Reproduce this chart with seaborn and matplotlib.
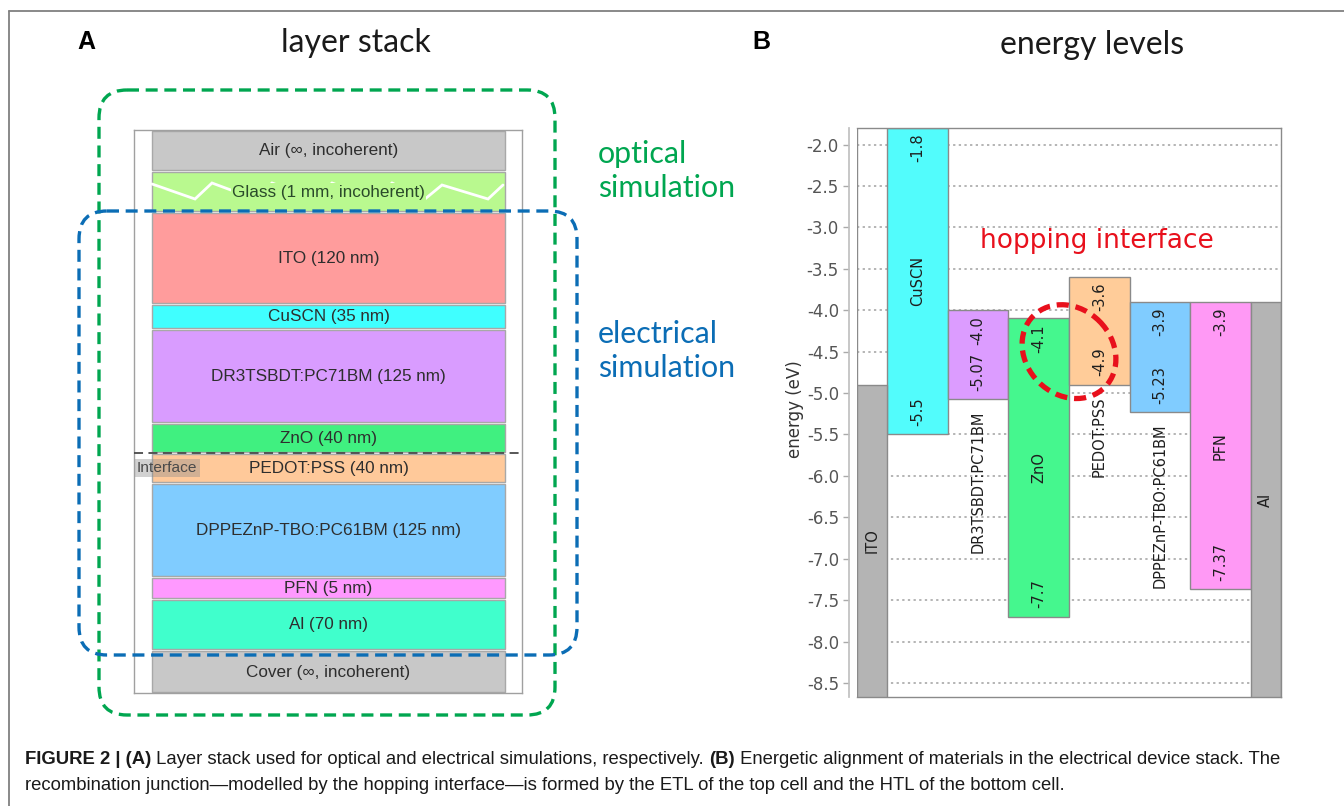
import matplotlib
matplotlib.use("Agg")
import matplotlib.pyplot as plt
import seaborn as sns
import numpy as np
import pandas as pd
from matplotlib.patches import FancyBboxPatch, Ellipse
from matplotlib.lines import Line2D

# ---------------- data: panel A (layer stack) ----------------
layer_labels = ["Air (\u221e, incoherent)", "Glass (1 mm, incoherent)", "ITO (120 nm)",
                "CuSCN (35 nm)", "DR3TSBDT:PC71BM (125 nm)", "ZnO (40 nm)",
                "PEDOT:PSS (40 nm)", "DPPEZnP-TBO:PC61BM (125 nm)", "PFN (5 nm)",
                "Al (70 nm)", "Cover (\u221e, incoherent)"]
layer_draw_rows = [41, 41, 92, 25, 94, 30, 30, 94, 22, 51, 43]   # drawn (not to scale) heights
layer_colors = ["#c8c8c8", "#b9f98f", "#ff9c9c", "#40ffff", "#d99cff", "#40f080",
                "#ffc99a", "#80ccff", "#ff99ff", "#40ffcc", "#c8c8c8"]
interface_below = "ZnO (40 nm)"

# ---------------- data: panel B (energy levels) ----------------
materials = ["CuSCN", "DR3TSBDT:PC71BM", "ZnO", "PEDOT:PSS", "DPPEZnP-TBO:PC61BM", "PFN"]
lumo = [-1.8, -4.0, -4.1, -3.6, -3.9, -3.9]
homo = [-5.5, -5.07, -7.7, -4.9, -5.23, -7.37]
lumo_labels = ["-1.8", "-4.0", "-4.1", "-3.6", "-3.9", "-3.9"]
homo_labels = ["-5.5", "-5.07", "-7.7", "-4.9", "-5.23", "-7.37"]
material_colors = ["#52fcfc", "#dc9cff", "#45f78e", "#ffcc99", "#80ccff", "#ff99f5"]
electrodes = ["ITO", "Al"]
work_function = [-4.9, -3.9]
electrode_color = "#b4b4b4"
ytick_values = [-2.0, -2.5, -3.0, -3.5, -4.0, -4.5, -5.0, -5.5, -6.0, -6.5, -7.0, -7.5, -8.0, -8.5]
ylim_energy = (-8.67, -1.8)
hop_pair = ("ZnO", "PEDOT:PSS")

caption_line1 = [("FIGURE 2 | (A)", True),
                 (" Layer stack used for optical and electrical simulations, respectively. ", False),
                 ("(B)", True),
                 (" Energetic alignment of materials in the electrical device stack. The", False)]
caption_line2 = [("recombination junction\u2014modelled by the hopping interface\u2014is formed by "
                  "the ETL of the top cell and the HTL of the bottom cell.", False)]

# ---------------- figure ----------------
sns.set_theme(style="white")
plt.rcParams["font.family"] = ["DejaVu Sans"]
plt.rcParams["axes.unicode_minus"] = False

W, H = 1344, 806
fig = plt.figure(figsize=(W / 100, H / 100), dpi=100)
fig.patch.set_facecolor("white")
renderer = fig.canvas.get_renderer()


def fx(x):
    return x / W


def fy(y):
    return 1 - y / H


def text_width(s, **props):
    t1 = fig.text(0, 0, s + "|", **props)
    w1 = t1.get_window_extent(renderer).width
    t1.remove()
    t2 = fig.text(0, 0, "|", **props)
    w2 = t2.get_window_extent(renderer).width
    t2.remove()
    return w1 - w2


def fit_size(s, target, base=12, **props):
    return base * target / text_width(s, fontsize=base, **props)


SANS = ["Liberation Sans", "DejaVu Sans"]
TITLE = ["Lato", "DejaVu Sans"]

# ---------------- Panel A ----------------
ax_a = fig.add_axes([fx(134), fy(693), (522 - 134) / W, (693 - 130) / H])
heights = np.array(layer_draw_rows, float)
tops = np.concatenate([[0], np.cumsum(heights)[:-1]])
total = heights.sum()
ax_a.set_xlim(0, 1)
ax_a.set_ylim(total, 0)
inner_l, inner_r = 18 / 388, 371 / 388
ax_a.barh(tops + heights / 2, inner_r - inner_l, left=inner_l, height=heights - 1.6,
          color=layer_colors, edgecolor="#a8a8a8", linewidth=1.0, zorder=2)
for sp in ax_a.spines.values():
    sp.set_color("#a0a0a0")
    sp.set_linewidth(1.0)
ax_a.set_xticks([])
ax_a.set_yticks([])

# zig-zag break symbol in the glass layer
gi = 1
g_top = tops[gi]
zig_x = np.array([152, 195, 212, 255, 272, 315, 332, 375, 392, 425, 442, 488, 503])
zig_y = np.array([13, 28, 12, 28, 12, 28, 12, 28, 12, 28, 14, 28, 14])
ax_a.plot((zig_x - 134) / 388, g_top + zig_y, color="white", lw=2.0, zorder=3,
          solid_joinstyle="miter")

lab_size = fit_size("DPPEZnP-TBO:PC61BM (125 nm)", 266, family=SANS)
for i, (lab, top, h) in enumerate(zip(layer_labels, tops, heights)):
    kw = {}
    col = "#2e2e2e"
    if i == gi:
        kw["bbox"] = dict(facecolor=layer_colors[gi], edgecolor="none", pad=1.0)
        col = "#2a4a2a"
    ax_a.text((inner_l + inner_r) / 2, top + h / 2 + 0.5, lab, ha="center", va="center",
              fontsize=lab_size, family=SANS, color=col, zorder=4, **kw)

ib = layer_labels.index(interface_below)
y_int = tops[ib] + heights[ib]
ax_a.axhline(y_int, color="#4a4a4a", lw=1.3, ls=(0, (5, 3)), zorder=5)
ax_a.text(3 / 388, y_int + 15, "Interface", ha="left", va="center", fontsize=lab_size * 0.9,
          family=SANS, color="#4a4a4a", zorder=6,
          bbox=dict(facecolor="#8c8c8c", alpha=0.4, edgecolor="none", pad=1.5))

# ---------------- Panel B ----------------
ax_b = fig.add_axes([fx(857), fy(697), (1281 - 857) / W, (697 - 128) / H])
pos = np.arange(1, len(materials) + 1)
df = pd.DataFrame({"pos": pos, "span": np.array(lumo) - np.array(homo), "homo": homo})
sns.barplot(data=df, x="pos", y="span", orient="x", native_scale=True, width=1.0,
            color="#999999", bottom=df["homo"].values, errorbar=None,
            edgecolor="#8a8a8a", linewidth=1.0, ax=ax_b, zorder=2)
for patch, c in zip(ax_b.patches, material_colors):
    patch.set_facecolor(c)

# electrodes (half width at both ends)
e_left = [0.0, len(materials) + 0.5]
floor = ylim_energy[0] - 1
ax_b.bar(e_left, np.array(work_function) - floor, width=0.5, bottom=floor, align="edge",
         color=electrode_color, edgecolor="#8a8a8a", linewidth=1.0, zorder=2)

ax_b.set_xlim(0, len(materials) + 1)
ax_b.set_ylim(*ylim_energy)
ax_b.set_xticks([])
ax_b.set_xlabel("")
ax_b.set_yticks(ytick_values)
ax_b.set_yticklabels([f"{v:.1f}" for v in ytick_values])
ax_b.tick_params(axis="y", left=True, length=4, width=1, color="#aaaaaa",
                 labelsize=12, labelcolor="#555555", pad=3)
ax_b.yaxis.grid(True, linestyle=(0, (1.5, 2.2)), color="#a0a0a0", lw=1.1)
ax_b.xaxis.grid(False)
ax_b.set_axisbelow(True)
for k in ["top", "right", "bottom"]:
    ax_b.spines[k].set_color("#8a8a8a")
    ax_b.spines[k].set_linewidth(1.0)
ax_b.spines["left"].set_position(("outward", 6))
ax_b.spines["left"].set_color("#c0c0c0")
ax_b.axvline(0, color="#8a8a8a", lw=1.0, zorder=1.5)
ax_b.set_ylabel("energy (eV)", fontsize=12, color="#333333")
ax_b.yaxis.set_label_coords((804 - 857) / 424, 0.506)

vsize = 10.5
for x, lu, ho, lul, hol, name in zip(pos, lumo, homo, lumo_labels, homo_labels, materials):
    ax_b.text(x, lu - 0.07, lul, rotation=90, ha="center", va="top", fontsize=vsize,
              color="#1e1e1e", zorder=4)
    ax_b.text(x, ho + 0.1, hol, rotation=90, ha="center", va="bottom", fontsize=vsize,
              color="#1e1e1e", zorder=4)
    if lu - ho >= 2:
        ax_b.text(x, (lu + ho) / 2, name, rotation=90, ha="center", va="center",
                  fontsize=vsize, color="#1e1e1e", zorder=4)
    else:
        ax_b.text(x, ho - 0.14, name, rotation=90, ha="center", va="top",
                  fontsize=vsize, color="#1e1e1e", zorder=4)
for xl, wf, name in zip(e_left, work_function, electrodes):
    ax_b.text(xl + 0.25, (wf + ylim_energy[0]) / 2, name, rotation=90, ha="center",
              va="center", fontsize=vsize, color="#1e1e1e", zorder=4)

ax_b.text(3.96, -3.17, "hopping interface", ha="center", va="center", fontsize=19,
          color="#e8101c", zorder=5)

# ---------------- overlay (annotations in pixel space) ----------------
ov = fig.add_axes([0, 0, 1, 1], zorder=10)
ov.set_xlim(0, W)
ov.set_ylim(H, 0)
ov.axis("off")

# figure frame (top and left lines)
ov.add_line(Line2D([9, W], [11, 11], color="#808080", lw=1.3))
ov.add_line(Line2D([9, 9], [11, H], color="#808080", lw=1.3))

green = "#00a650"
blue = "#0b6db5"
ov.add_patch(FancyBboxPatch((99, 90), 555 - 99, 715 - 90,
                            boxstyle="round,pad=0,rounding_size=28", fill=False,
                            edgecolor=green, lw=2.4, ls=(0, (3.6, 2.0))))
ov.add_patch(FancyBboxPatch((79, 211), 577 - 79, 655 - 211,
                            boxstyle="round,pad=0,rounding_size=28", fill=False,
                            edgecolor=blue, lw=2.4, ls=(0, (3.6, 2.0))))

# hopping-interface ellipse around ZnO LUMO / PEDOT:PSS HOMO labels
i1, i2 = materials.index(hop_pair[0]), materials.index(hop_pair[1])
cdata = ((pos[i1] + pos[i2]) / 2, (lumo[i1] + homo[i2]) / 2)
cx, cy = ax_b.transData.transform(cdata)
cy = H - cy
ov.add_patch(Ellipse((cx, cy), 101, 86, angle=45, fill=False, edgecolor="#e8101c",
                     lw=3.8, ls=(0, (2.3, 1.3))))

# panel letters and titles
ov.text(86, 42, "A", ha="center", va="center", fontsize=18, fontweight="bold",
        family=SANS, color="black")
ov.text(761, 42, "B", ha="center", va="center", fontsize=18, fontweight="bold",
        family=SANS, color="black")
tsize = fit_size("layer stack", 149, family=TITLE)
ov.text(356, 43, "layer stack", ha="center", va="center", fontsize=tsize, family=TITLE,
        color="#1a1a1a")
ov.text(1092, 45, "energy levels", ha="center", va="center", fontsize=tsize, family=TITLE,
        color="#1a1a1a")
ssize = fit_size("simulation", 137, family=TITLE)
ov.text(598, 154, "optical", ha="left", va="center", fontsize=ssize, family=TITLE, color=green)
ov.text(598, 188, "simulation", ha="left", va="center", fontsize=ssize, family=TITLE, color=green)
ov.text(598, 334, "electrical", ha="left", va="center", fontsize=ssize, family=TITLE, color=blue)
ov.text(598, 368, "simulation", ha="left", va="center", fontsize=ssize, family=TITLE, color=blue)

# caption
def runs_width(runs, size):
    return sum(text_width(s, fontsize=size, family=SANS,
                          fontweight="bold" if b else "normal") for s, b in runs)

csize = 11 * 1260 / runs_width(caption_line1, 11)


def draw_runs(x0, y, runs, size):
    x = x0
    for s, b in runs:
        ov.text(x, y, s, ha="left", va="center", fontsize=size, family=SANS,
                fontweight="bold" if b else "normal", color="#1a1a1a")
        x += text_width(s, fontsize=size, family=SANS, fontweight="bold" if b else "normal")


draw_runs(25, 759, caption_line1, csize)
draw_runs(25, 785, caption_line2, csize)

fig.savefig("out.png", dpi=100, facecolor="white")
